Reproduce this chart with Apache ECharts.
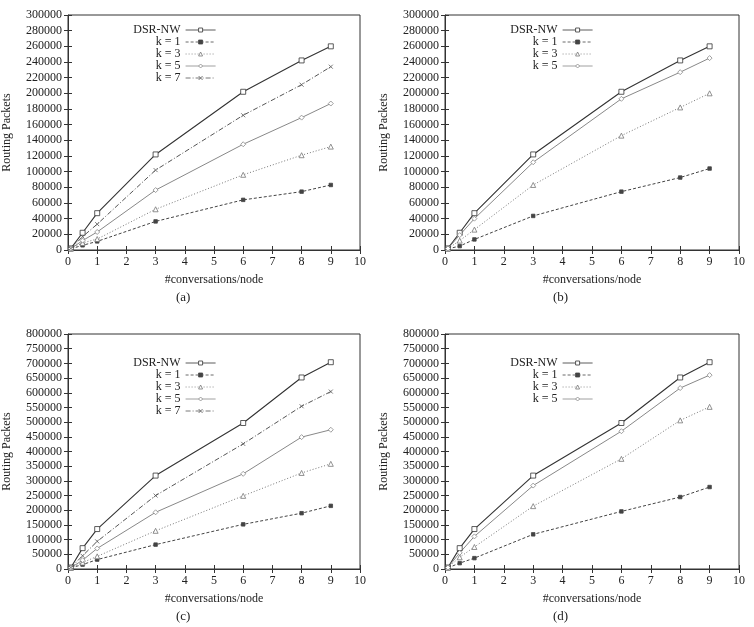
<!DOCTYPE html>
<html>
<head>
<meta charset="utf-8">
<script src="https://cdn.jsdelivr.net/npm/echarts@6/dist/echarts.min.js"></script>
<style>
    html, body { margin: 0; padding: 0; background: #fff; }
    #main { width: 754px; height: 627px; }
</style>
</head>
<body>
<div id="main"></div>
<script>
// x values (#conversations/node)
const conversations = [0.1, 0.5, 1, 3, 6, 8, 9];

// panel (a) and (b) share the DSR-NW curve
const dsrSmall = [2000, 22000, 47000, 122000, 202000, 242000, 260000];
const aK1 = [1500, 6000, 11000, 36500, 64000, 74500, 83000];
const aK3 = [1800, 9000, 14000, 52000, 96000, 121000, 132000];
const aK5 = [1800, 12000, 23000, 76500, 135000, 169000, 187000];
const aK7 = [2000, 17000, 33000, 102000, 172000, 211000, 234000];

const bK1 = [1500, 5000, 13500, 43500, 74500, 92500, 104000];
const bK3 = [1800, 12000, 26000, 83000, 146000, 182000, 200000];
const bK5 = [2000, 19000, 40000, 112000, 193000, 227000, 245000];

// panel (c) and (d) share the DSR-NW curve
const dsrLarge = [5000, 71000, 136000, 318000, 497000, 652000, 704000];
const cK1 = [4000, 15000, 32000, 83000, 152000, 190000, 215000];
const cK3 = [4000, 22000, 43000, 130000, 249000, 327000, 358000];
const cK5 = [4500, 30000, 70000, 193000, 324000, 449000, 474000];
const cK7 = [5000, 45000, 94000, 250000, 426000, 554000, 604000];

const dK1 = [4000, 20000, 37000, 118000, 196000, 245000, 279000];
const dK3 = [4500, 40000, 75000, 214000, 375000, 506000, 552000];
const dK5 = [5000, 55000, 111000, 284000, 469000, 616000, 660000];

const panelLabels = ['(a)', '(b)', '(c)', '(d)'];
const xTitle = '#conversations/node';
const yTitle = 'Routing Packets';

const FONT = 'Liberation Serif';
const INK = '#222';

// look of each curve, keyed by legend name (fill white = open marker)
const styles = {
    'DSR-NW': {color: '#333', fill: '#fff', type: 'solid', width: 1.1, symbol: 'rect', size: 5},
    'k = 1': {color: '#444', fill: '#444', type: [3, 2], width: 1, symbol: 'rect', size: 3.5},
    'k = 3': {color: '#777', fill: '#fff', type: [1, 2], width: 1, symbol: 'triangle', size: 5},
    'k = 5': {color: '#888', fill: '#fff', type: 'solid', width: 1, symbol: 'diamond', size: 5},
    'k = 7': {color: '#555', fill: '#555', type: [5, 2, 1, 2], width: 1, symbol: 'path://M0,0L10,10M10,0L0,10', size: 4}
};

const panels = [
    {left: 68, top: 15, width: 292, height: 235, max: 300000, step: 20000, legendTop: 19,
        lines: [['DSR-NW', dsrSmall], ['k = 1', aK1], ['k = 3', aK3], ['k = 5', aK5], ['k = 7', aK7]]},
    {left: 445, top: 15, width: 294, height: 235, max: 300000, step: 20000, legendTop: 19,
        lines: [['DSR-NW', dsrSmall], ['k = 1', bK1], ['k = 3', bK3], ['k = 5', bK5]]},
    {left: 68, top: 334, width: 292, height: 235, max: 800000, step: 50000, legendTop: 352,
        lines: [['DSR-NW', dsrLarge], ['k = 1', cK1], ['k = 3', cK3], ['k = 5', cK5], ['k = 7', cK7]]},
    {left: 445, top: 334, width: 294, height: 235, max: 800000, step: 50000, legendTop: 352,
        lines: [['DSR-NW', dsrLarge], ['k = 1', dK1], ['k = 3', dK3], ['k = 5', dK5]]}
];

const grid = [], xAxis = [], yAxis = [], series = [], legend = [], graphic = [];

panels.forEach(function (p, i) {
    grid.push({left: p.left, top: p.top, width: p.width, height: p.height,
        show: true, borderColor: '#333', borderWidth: 1});

    const tick = {show: true, inside: true, length: 4, lineStyle: {color: '#333'}};
    // bottom + left axes carry the labels, top + right only mirror the ticks
    xAxis.push({type: 'value', gridIndex: i, min: 0, max: 10, interval: 1,
        axisLine: {lineStyle: {color: '#333'}}, axisTick: tick, splitLine: {show: false},
        axisLabel: {color: INK, fontFamily: FONT, fontSize: 12, margin: 6},
        name: xTitle, nameLocation: 'middle', nameGap: 24,
        nameTextStyle: {color: INK, fontFamily: FONT, fontSize: 12}});
    xAxis.push({type: 'value', gridIndex: i, position: 'top', min: 0, max: 10, interval: 1,
        axisLine: {show: false}, axisTick: tick, axisLabel: {show: false}, splitLine: {show: false}});
    yAxis.push({type: 'value', gridIndex: i, min: 0, max: p.max, interval: p.step,
        axisLine: {lineStyle: {color: '#333'}}, axisTick: tick, splitLine: {show: false},
        axisLabel: {color: INK, fontFamily: FONT, fontSize: 12, margin: 6,
            formatter: function (v) { return String(v); }},
        name: yTitle, nameLocation: 'middle', nameGap: 55,
        nameTextStyle: {color: INK, fontFamily: FONT, fontSize: 12}});
    yAxis.push({type: 'value', gridIndex: i, position: 'right', min: 0, max: p.max, interval: p.step,
        axisLine: {show: false}, axisTick: tick, axisLabel: {show: false}, splitLine: {show: false}});

    p.lines.forEach(function (entry) {
        const s = styles[entry[0]];
        series.push({
            type: 'line', name: entry[0],
            xAxisIndex: i * 2, yAxisIndex: i * 2,
            data: conversations.map(function (x, j) { return [x, entry[1][j]]; }),
            symbol: s.symbol, symbolSize: s.size, showSymbol: true,
            lineStyle: {color: s.color, type: s.type, width: s.width},
            itemStyle: {color: s.fill, borderColor: s.color, borderWidth: 0.8},
            animation: false
        });
    });

    legend.push({
        orient: 'vertical', align: 'right',
        right: 754 - (p.left + 153), top: p.legendTop,
        itemWidth: 30, itemHeight: 5, itemGap: 0,
        data: p.lines.map(function (e) {
            const s = styles[e[0]];
            return {name: e[0], itemStyle: {color: s.fill, borderColor: s.color, borderWidth: 0.8}};
        }),
        selectedMode: false,
        lineStyle: {width: 0.8},
        textStyle: {color: INK, fontFamily: FONT, fontSize: 12, lineHeight: 12,
            width: 58, align: 'right'}
    });

    graphic.push({type: 'text', left: p.left + 108, top: p.top + p.height + 41,
        style: {text: panelLabels[i], fill: INK, font: '13px "Liberation Serif"'}});
});

const chart = echarts.init(document.getElementById('main'), null, {renderer: 'canvas'});
chart.setOption({
    backgroundColor: '#fff',
    animation: false,
    grid: grid,
    xAxis: xAxis,
    yAxis: yAxis,
    legend: legend,
    graphic: graphic,
    series: series
});
</script>
</body>
</html>
